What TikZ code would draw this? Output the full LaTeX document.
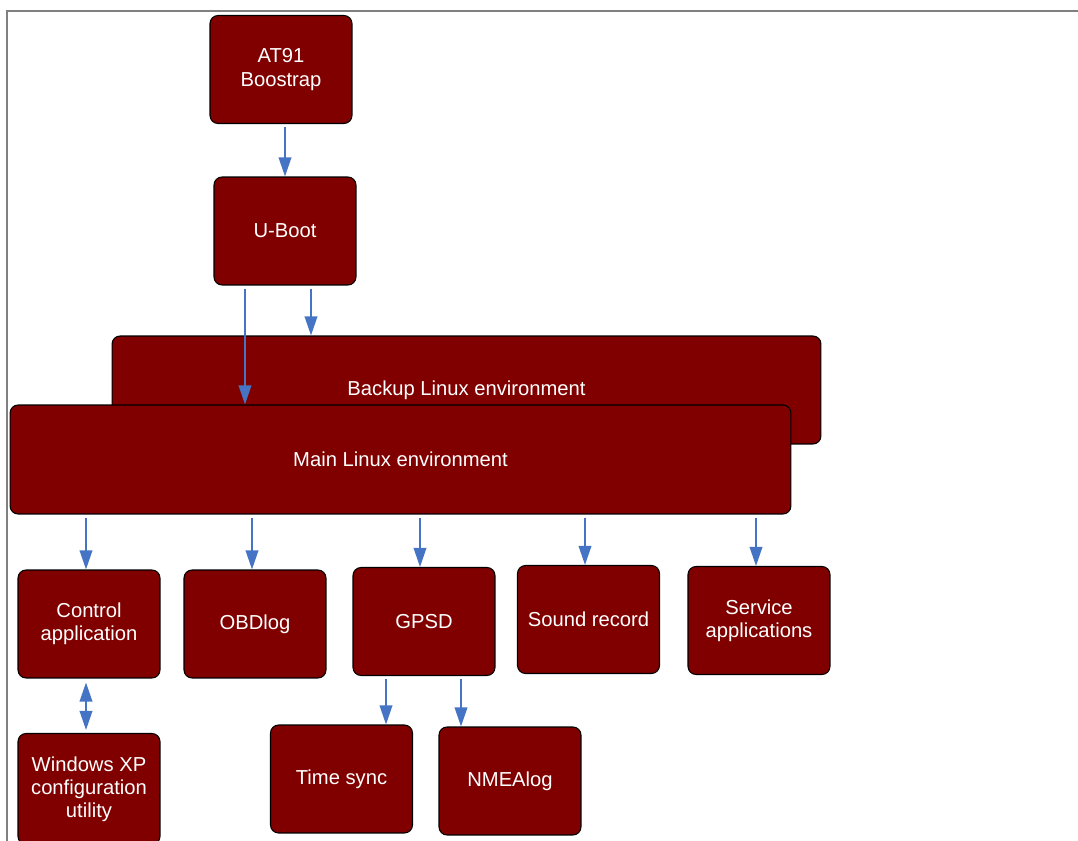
\documentclass[tikz,border=0pt]{standalone}
\usepackage{fontspec}
\setmainfont{Liberation Sans}
\usetikzlibrary{arrows.meta}
\definecolor{boxred}{RGB}{128,0,0}
\definecolor{arrblue}{RGB}{70,116,196}
\tikzset{blk/.style={draw=black, fill=boxred, text=white, rounded corners=0.16cm,
  minimum width=2.84cm, minimum height=2.16cm, align=center, line width=0.6pt,
  font=\fontsize{11.5}{13.2}\selectfont}}
\tikzset{arr/.style={draw=arrblue, line width=1.1pt, shorten <=0.06cm,
  -{Triangle[length=0.38cm,width=0.25cm]}}}
\tikzset{dblarr/.style={draw=arrblue, line width=1.1pt, shorten <=0.08cm, shorten >=0.06cm,
  {Triangle[length=0.38cm,width=0.25cm]}-{Triangle[length=0.38cm,width=0.25cm]}}}

\begin{document}
\begin{tikzpicture}[x=0.02cm, y=-0.02cm]
\useasboundingbox (0,0) rectangle (1078,841);
\draw[gray, line width=1.3pt] (1078,11) -- (7,11) -- (7,841);
% boot chain
\node (at91) at (281,69.5) [blk] {AT91\\Boostrap};
\node (uboot) at (285,231) [blk] {U-Boot};
\node (backup) at (466.5,390) [blk, minimum width=14.18cm] {Backup Linux environment};
\node (main) at (400.5,459.5) [blk, minimum width=15.62cm, minimum height=2.18cm] {Main Linux environment};
% applications
\node (ctrl) at (89,624) [blk] {Control\\application};
\node (obd) at (255,624) [blk] {OBDlog};
\node (gpsd) at (424,621.5) [blk] {GPSD};
\node (sound) at (588.5,619.5) [blk] {Sound record};
\node (service) at (759,620.5) [blk] {Service\\applications};
\node (winxp) at (89,789) [blk, minimum height=2.22cm] {Windows XP\\configuration\\utility};
\node (tsync) at (341.5,779) [blk] {Time sync};
\node (nmea) at (510,781) [blk] {NMEAlog};
% connectors
\draw[arr] (at91.south -| uboot) -- (uboot.north);
\draw[arr] (uboot.south -| 311,0) -- (backup.north -| 311,0);
\draw[arr] (uboot.south -| 245,0) -- (main.north -| 245,0);
\draw[arr] (main.south -| 86,0) -- (ctrl.north -| 86,0);
\draw[arr] (main.south -| 252,0) -- (obd.north -| 252,0);
\draw[arr] (main.south -| 420,0) -- (gpsd.north -| 420,0);
\draw[arr] (main.south -| 585,0) -- (sound.north -| 585,0);
\draw[arr] (main.south -| 756,0) -- (service.north -| 756,0);
\draw[dblarr] (ctrl.south -| 86,0) -- (winxp.north -| 86,0);
\draw[arr] (gpsd.south -| 386,0) -- (tsync.north -| 386,0);
\draw[arr] (gpsd.south -| 461,0) -- (nmea.north -| 461,0);
\end{tikzpicture}
\end{document}
